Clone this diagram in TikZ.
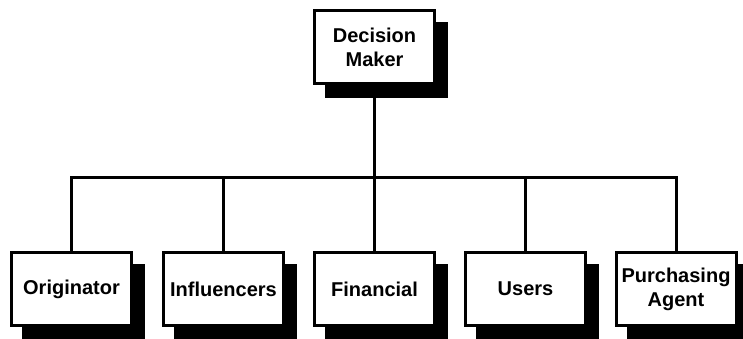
\documentclass[tikz,border=0pt]{standalone}
\usepackage{fontspec}
\setmainfont{Liberation Sans}
\usetikzlibrary{backgrounds}
\tikzset{
  lw/.style={line width=3pt},
  orgbox/.style={lw, draw=black, fill=white, rectangle, minimum width=120pt, minimum height=73pt,
    align=center, inner sep=0pt, font=\fontsize{20}{24}\selectfont\bfseries},
  conn/.style={lw, draw=black, line cap=rect, line join=miter},
  shadowbox/.style={fill=black}
}
\newcommand{\orgshadow}[1]{%
  \fill[shadowbox] ([shift={(12,13)}]#1.north west) rectangle ([shift={(12,13)}]#1.south east);}
\begin{document}
\begin{tikzpicture}[x=1pt,y=-1pt]
\useasboundingbox (0,0) rectangle (743,339);
\node[orgbox] (dm) at (374.5,47) {Decision\\Maker};
\node[orgbox] (orig) at (71.5,289) {Originator};
\node[orgbox] (infl) at (223.5,289) {Influencers};
\node[orgbox] (fin) at (374.5,289) {Financial};
\node[orgbox] (users) at (525.5,289) {Users};
\node[orgbox] (purch) at (676,289) {Purchasing\\Agent};
\begin{scope}[on background layer]
\orgshadow{dm}
\orgshadow{orig}
\orgshadow{infl}
\orgshadow{fin}
\orgshadow{users}
\orgshadow{purch}
\end{scope}
\coordinate (bar) at (0,177.5);
\draw[conn] (dm.south) -- (dm.south |- bar);
\draw[conn] (orig.north) -- (orig.north |- bar) -- (purch.north |- bar) -- (purch.north);
\draw[conn] (infl.north) -- (infl.north |- bar);
\draw[conn] (fin.north) -- (fin.north |- bar);
\draw[conn] (users.north) -- (users.north |- bar);
\end{tikzpicture}
\end{document}
